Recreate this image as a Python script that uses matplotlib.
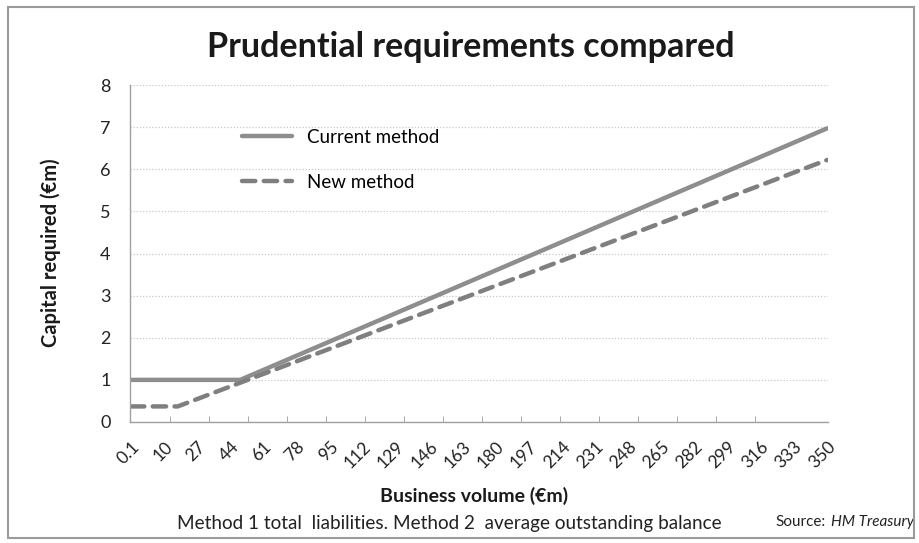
import matplotlib

matplotlib.use("Agg")

import matplotlib.pyplot as plt
import numpy as np
from matplotlib.patches import Rectangle

# business volume (EUR m) shown on the category axis
tick_volumes = [0.1, 10, 27, 44, 61, 78, 95, 112, 129, 146, 163, 180,
                197, 214, 231, 248, 265, 282, 299, 316, 333, 350]
tick_labels = ["0.1", "10", "27", "44", "61", "78", "95", "112", "129", "146", "163",
               "180", "197", "214", "231", "248", "265", "282", "299", "316", "333", "350"]

# line vertices (volume, capital EUR m)
current_volume = [0.1, 49, 350]
current_capital = [1.0, 1.0, 6.97]
new_volume = [0.1, 17, 350]
new_capital = [0.37, 0.37, 6.22]

y_ticks = [0, 1, 2, 3, 4, 5, 6, 7, 8]

plt.rcParams["font.family"] = ["Lato", "DejaVu Sans"]


# excel category axis: 0.1 sits 17 slots before 10, then one slot per unit
def to_slot(v):
    v = np.asarray(v, dtype=float)
    return np.where(v < 10, (v - 0.1) / 9.9 * 17, v + 7)


def from_slot(p):
    p = np.asarray(p, dtype=float)
    return np.where(p < 17, 0.1 + p / 17 * 9.9, p - 7)


fig = plt.figure(figsize=(9.19, 5.43), dpi=100)
fig.patches.append(Rectangle((8 / 919, 5 / 543), 906 / 919, 531 / 543, transform=fig.transFigure,
                             fill=False, edgecolor="#9a9a9a", linewidth=1.5))

ax = fig.add_axes([130 / 919, 1 - 422 / 543, 698 / 919, 337 / 543])
ax.set_xscale("function", functions=(to_slot, from_slot))
ax.set_xlim(float(from_slot(-0.5)), float(from_slot(357.5)))
ax.set_ylim(0, 8)

ax.plot(current_volume, current_capital, color="#8e8e8e", linewidth=3.2,
        solid_capstyle="round", label="Current method")
ax.plot(new_volume, new_capital, color="#7f7f7f", linewidth=3.2, linestyle=(0, (3.0, 1.9)),
        dash_capstyle="round", label="New method")

ax.set_yticks(y_ticks)
ax.set_xticks(tick_volumes)
ax.set_xticklabels(tick_labels, rotation=45, ha="right", va="top", rotation_mode="anchor")
ax.set_xticks(from_slot(np.arange(20, 341, 20)), minor=True)
ax.tick_params(axis="x", which="major", length=0, pad=12, labelsize=12.5, colors="#222222")
ax.tick_params(axis="x", which="minor", direction="in", length=4, color="#9a9a9a")
ax.tick_params(axis="y", length=0, pad=14, labelsize=13, colors="#222222")

ax.grid(axis="y", color="#c8c8c8", linestyle=(0, (1, 1.5)), linewidth=0.9)
ax.set_axisbelow(True)
for side in ["top", "right"]:
    ax.spines[side].set_visible(False)
for side in ["left", "bottom"]:
    ax.spines[side].set_color("#a0a0a0")
    ax.spines[side].set_linewidth(1.0)

ax.legend(loc="upper left", bbox_to_anchor=(0.136, 0.92), frameon=False, fontsize=13.5,
          handlelength=2.7, labelspacing=1.5, handletextpad=0.8)

fig.text(471 / 919, 1 - 47 / 543, "Prudential requirements compared", ha="center", va="center",
         fontsize=24.5, fontweight="bold", color="#1a1a1a")
fig.text(51 / 919, 1 - 253 / 543, "Capital required (\u20acm)", rotation=90, ha="center", va="center",
         fontsize=14.5, fontweight="bold", color="#1a1a1a")
fig.text(474 / 919, 1 - 496 / 543, "Business volume (\u20acm)", ha="center", va="center",
         fontsize=14, fontweight="bold", color="#1a1a1a")
fig.text(449 / 919, 1 - 523 / 543, "Method 1 total  liabilities. Method 2  average outstanding balance",
         ha="center", va="center", fontsize=13.6, color="#222222")
source = fig.text(775 / 919, 1 - 522 / 543, "Source:", ha="left", va="center", fontsize=11,
                  color="#222222")
ax.annotate("HM Treasury", xy=(1, 0.5), xycoords=source, xytext=(4, 0), textcoords="offset points",
            ha="left", va="center", fontsize=11, style="italic", color="#222222",
            annotation_clip=False)

fig.savefig("out.png", dpi=100)
